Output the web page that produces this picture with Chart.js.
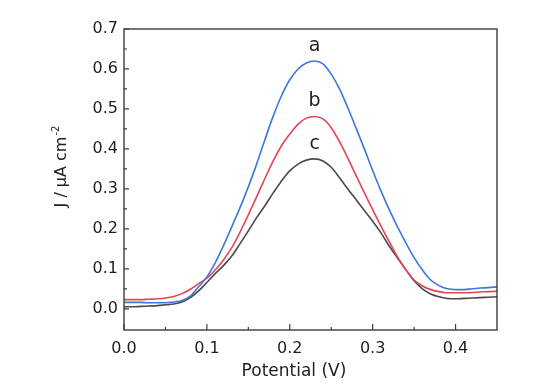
<!DOCTYPE html>
<html><head><meta charset="utf-8">
<script src="https://cdn.jsdelivr.net/npm/chart.js@4.4.0/dist/chart.umd.min.js"></script>
<style>html,body{margin:0;padding:0;background:#fff;} #c{display:block;}</style>
</head><body>
<canvas id="c" width="555" height="391"></canvas>
<script>
const potential = [0.00,0.01,0.02,0.03,0.04,0.05,0.06,0.07,0.08,0.09,0.10,0.11,0.12,0.13,0.14,0.15,0.16,0.17,0.18,0.19,0.20,0.21,0.22,0.23,0.24,0.25,0.26,0.27,0.28,0.29,0.30,0.31,0.32,0.33,0.34,0.35,0.36,0.37,0.38,0.39,0.40,0.41,0.42,0.43,0.44,0.45];
const curveA = [0.016,0.016,0.016,0.015,0.015,0.015,0.017,0.021,0.032,0.055,0.080,0.115,0.158,0.205,0.253,0.305,0.362,0.423,0.482,0.533,0.573,0.600,0.615,0.620,0.613,0.587,0.550,0.503,0.452,0.400,0.346,0.295,0.248,0.205,0.165,0.128,0.097,0.072,0.058,0.050,0.048,0.048,0.050,0.052,0.053,0.055];
const curveB = [0.023,0.023,0.023,0.024,0.025,0.027,0.031,0.038,0.049,0.063,0.077,0.097,0.122,0.153,0.192,0.235,0.280,0.326,0.370,0.408,0.437,0.462,0.477,0.481,0.475,0.453,0.418,0.377,0.333,0.290,0.248,0.207,0.168,0.130,0.098,0.072,0.057,0.048,0.043,0.040,0.040,0.040,0.041,0.042,0.043,0.044];
const curveC = [0.005,0.005,0.006,0.007,0.008,0.010,0.012,0.017,0.028,0.045,0.066,0.088,0.108,0.132,0.163,0.195,0.228,0.258,0.290,0.320,0.345,0.362,0.372,0.375,0.370,0.354,0.328,0.300,0.273,0.246,0.219,0.190,0.157,0.127,0.098,0.070,0.050,0.037,0.030,0.026,0.025,0.026,0.027,0.028,0.029,0.030];
const seriesNames = ['a','b','c'];
const seriesColors = ['#3b78d6','#e5454f','#4a4a4a'];
const peakLabelX = 0.23;
const peakLabelY = [0.657,0.520,0.411];
const xTicks = [0.0,0.1,0.2,0.3,0.4];
const xMinorTicks = [0.05,0.15,0.25,0.35];
const yTicks = [0.0,0.1,0.2,0.3,0.4,0.5,0.6,0.7];
const yMinorTicks = [0.05,0.15,0.25,0.35,0.45,0.55,0.65];
const xTitle = 'Potential (V)';
const yTitleMain = 'J / μA cm';
const yTitleSup = '-2';

const FONT = '"DejaVu Sans", sans-serif';
const AXIS_COLOR = '#3d3d3d';

function toPoints(ys){ return potential.map((x,i)=>({x:x,y:ys[i]})); }

const framePlugin = {
  id:'frame',
  afterDatasetsDraw(chart){
    const {ctx, chartArea:a, scales:{x,y}} = chart;
    ctx.save();
    ctx.strokeStyle = AXIS_COLOR;
    ctx.lineWidth = 1.4;
    ctx.strokeRect(a.left, a.top, a.right-a.left, a.bottom-a.top);
    ctx.lineWidth = 1.2;
    ctx.beginPath();
    xTicks.forEach(v=>{const p=x.getPixelForValue(v); ctx.moveTo(p,a.bottom); ctx.lineTo(p,a.bottom-6);});
    xMinorTicks.forEach(v=>{const p=x.getPixelForValue(v); ctx.moveTo(p,a.bottom); ctx.lineTo(p,a.bottom-3);});
    yTicks.forEach(v=>{const p=y.getPixelForValue(v); ctx.moveTo(a.left,p); ctx.lineTo(a.left+5,p);});
    yMinorTicks.forEach(v=>{const p=y.getPixelForValue(v); ctx.moveTo(a.left,p); ctx.lineTo(a.left+3,p);});
    ctx.stroke();
    // peak labels
    ctx.fillStyle = '#1e1e1e';
    ctx.font = '19px ' + FONT;
    ctx.textAlign = 'center';
    ctx.textBaseline = 'middle';
    seriesNames.forEach((n,i)=>{
      ctx.fillText(n, x.getPixelForValue(peakLabelX), y.getPixelForValue(peakLabelY[i]));
    });
    // x title
    ctx.font = '17px ' + FONT;
    ctx.fillText(xTitle, 294, 372);
    // y title
    ctx.save();
    ctx.translate(62, 167);
    ctx.rotate(-Math.PI/2);
    ctx.font = '16px ' + FONT;
    const w1 = ctx.measureText(yTitleMain).width;
    ctx.font = '10px ' + FONT;
    const w2 = ctx.measureText(yTitleSup).width;
    const start = -(w1+w2)/2;
    ctx.textAlign = 'left';
    ctx.font = '16px ' + FONT;
    ctx.fillText(yTitleMain, start, 0);
    ctx.font = '10px ' + FONT;
    ctx.fillText(yTitleSup, start + w1 + 1, -6);
    ctx.restore();
    ctx.restore();
  }
};

new Chart(document.getElementById('c'), {
  type:'line',
  data:{
    datasets: [curveA, curveB, curveC].map((d,i)=>({
      label: seriesNames[i],
      data: toPoints(d),
      borderColor: seriesColors[i],
      borderWidth: 1.6,
      pointRadius: 0,
      fill: false,
      cubicInterpolationMode: 'monotone'
    }))
  },
  options:{
    responsive:false,
    devicePixelRatio:1,
    animation:false,
    events:[],
    layout:{padding:{left:0, top:29, right:58, bottom:0}},
    plugins:{legend:{display:false}, tooltip:{enabled:false}},
    scales:{
      x:{
        type:'linear', min:0, max:0.45,
        grid:{display:false, drawTicks:false},
        border:{display:false},
        afterBuildTicks: s => { s.ticks = xTicks.map(v=>({value:v})); },
        afterFit: s => { s.height = 61; },
        ticks:{ padding:9, color:'#1e1e1e', font:{family:FONT, size:16}, callback:v=>Number(v).toFixed(1), maxRotation:0 }
      },
      y:{
        type:'linear', min:-0.053, max:0.7,
        grid:{display:false, drawTicks:false},
        border:{display:false},
        afterBuildTicks: s => { s.ticks = yTicks.map(v=>({value:v})); },
        afterFit: s => { s.width = 124; },
        ticks:{ padding:6, color:'#1e1e1e', font:{family:FONT, size:16}, callback:v=>Number(v).toFixed(1) }
      }
    }
  },
  plugins:[framePlugin]
});
</script>
</body></html>
